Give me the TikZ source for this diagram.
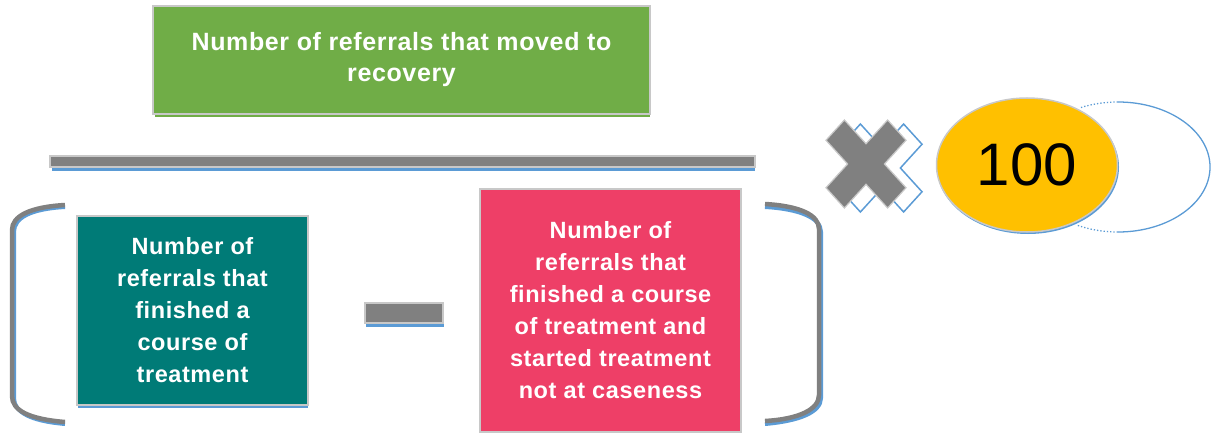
\documentclass[tikz,border=0pt]{standalone}
\usepackage{fontspec}
\setmainfont{Liberation Sans}
\newfontfamily\boxfont[LetterSpace=2.5]{Liberation Sans}
\usetikzlibrary{shapes.geometric}
\definecolor{cgreen}{HTML}{70AD47}
\definecolor{cteal}{HTML}{007B77}
\definecolor{cpink}{HTML}{EE3F67}
\definecolor{cyellow}{HTML}{FFC000}
\definecolor{cgray}{HTML}{808080}
\definecolor{cblue}{HTML}{5B9BD5}
\definecolor{cborder}{HTML}{C8C8C8}
\tikzset{
  box/.style={draw=cborder, line width=1.5pt, text=white, align=center, inner sep=0pt,
    font=\boxfont\fontsize{23.5}{32}\selectfont\bfseries},
  bigbox/.style={box, font=\boxfont\fontsize{25}{31}\selectfont\bfseries},
  grayshape/.style={fill=cgray, draw=cborder, line width=1.2pt},
  shade/.style={fill=cblue},
  brk/.style={draw=cgray, line width=4.5pt},
  brkshadow/.style={draw=cblue, line width=4pt},
  xshape/.style={draw=cblue, line width=1.5pt, fill=white},
}
\begin{document}
\begin{tikzpicture}[x=1pt,y=1pt]
\useasboundingbox (0,0) rectangle (1212,-433);
% numerator box
\fill[cgreen] (155,-113) rectangle (650,-117);
\node[bigbox, fill=cgreen, minimum width=497pt, minimum height=108pt] (num) at (401.5,-60)
  {Number of referrals that moved to\\recovery};
% fraction bar
\fill[shade] (52,-166) rectangle (755,-171);
\draw[grayshape] (50,-156) rectangle (755,-167);
\coordinate (bar) at (402,-161);
% left bracket
\draw[brkshadow] (65,-207) .. controls (30,-209) and (14,-218) .. (14,-232) -- (14,-398) .. controls (14,-412) and (30,-421) .. (65,-424);
\draw[brk] (65,-205) .. controls (30,-207) and (12,-216) .. (12,-230) -- (12,-396) .. controls (12,-410) and (28,-419) .. (65,-422);
% teal box
\fill[cblue] (78,-403) rectangle (308,-408);
\node[box, fill=cteal, minimum width=231pt, minimum height=189pt] (fin) at (192.5,-310.5)
  {Number of\\referrals that\\finished a\\course of\\treatment};
% minus sign
\fill[shade] (366,-320) rectangle (444,-327);
\draw[grayshape] (365,-303) rectangle (443,-323);
\coordinate (minus) at (404,-313);
% pink box
\node[box, fill=cpink, minimum width=261pt, minimum height=243pt] (notc) at (610.5,-310.5)
  {Number of\\referrals that\\finished a course\\of treatment and\\started treatment\\not at caseness};
% right bracket
\draw[brkshadow] (765,-207) .. controls (800,-209) and (821,-218) .. (821,-232) -- (821,-398) .. controls (821,-412) and (800,-421) .. (765,-424);
\draw[brk] (765,-204) .. controls (800,-206) and (819,-215) .. (819,-229) -- (819,-395) .. controls (819,-409) and (800,-419) .. (765,-421);
% multiplication cross
\begin{scope}[shift={(882,-168)}, yscale=1.1]
\draw[xshape] (18.4,0) -- (40,21.6) -- (21.6,40) -- (0,18.4) -- (-21.6,40) -- (-40,21.6) -- (-18.4,0) -- (-40,-21.6) -- (-21.6,-40) -- (0,-18.4) -- (21.6,-40) -- (40,-21.6) -- cycle;
\end{scope}
\begin{scope}[shift={(866,-164)}, yscale=1.1]
\draw[grayshape] (18.4,0) -- (40,21.6) -- (21.6,40) -- (0,18.4) -- (-21.6,40) -- (-40,21.6) -- (-18.4,0) -- (-40,-21.6) -- (-21.6,-40) -- (0,-18.4) -- (21.6,-40) -- (40,-21.6) -- cycle;
\end{scope}
\coordinate (times) at (866,-164);
% blue arc
\draw[cblue, line width=1.3pt] (1118,-102) arc[start angle=90, end angle=-90, x radius=92pt, y radius=65pt];
\draw[cblue, line width=1.3pt, dotted] (1118,-102) arc[start angle=90, end angle=114, x radius=92pt, y radius=65pt];
\draw[cblue, line width=1.3pt, dotted] (1118,-232) arc[start angle=-90, end angle=-116, x radius=92pt, y radius=65pt];
% ellipse 100
\fill[cblue] (1028,-167) ellipse[x radius=91pt, y radius=67pt];
\node[ellipse, fill=cyellow, draw=cborder, line width=1.5pt, minimum width=181pt, minimum height=134pt, inner sep=0pt,
  font=\fontsize{60}{60}\selectfont] (hundred) at (1027,-165) {100};
\end{tikzpicture}
\end{document}
